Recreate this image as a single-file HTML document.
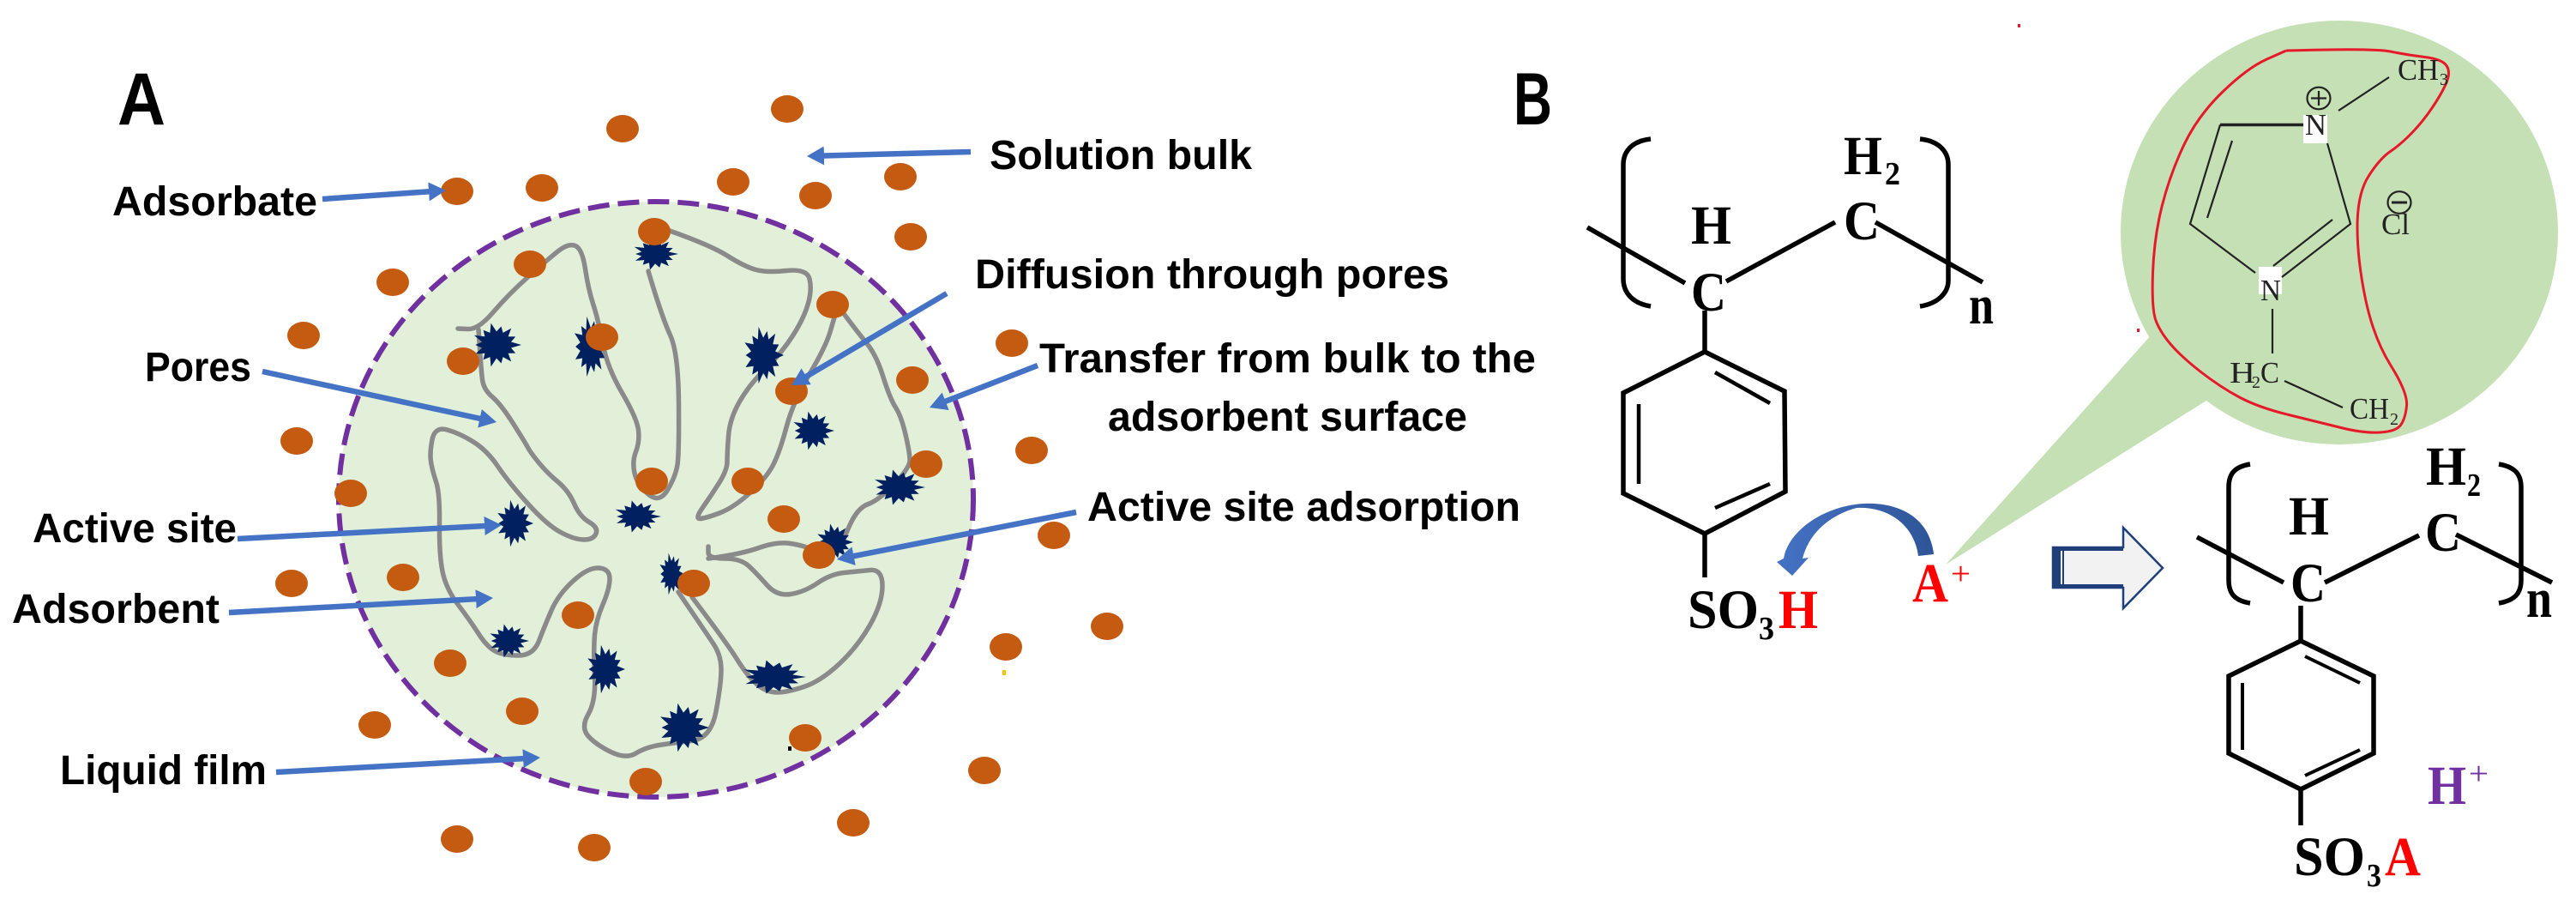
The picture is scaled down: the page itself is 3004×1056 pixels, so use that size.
<!DOCTYPE html>
<html><head><meta charset="utf-8"><title>Adsorption diagram</title>
<style>
html,body{margin:0;padding:0;background:#fff}
svg{display:block}
.l{font-family:"Liberation Sans",sans-serif;font-weight:700;font-size:48px;fill:#000}
.b{font-family:"Liberation Sans",sans-serif;font-weight:700;font-size:86px;fill:#000}
.s{font-family:"Liberation Serif",serif;font-weight:700;font-size:65px;fill:#000}
.ss{font-family:"Liberation Serif",serif;font-weight:700;font-size:38px;fill:#000}
.m{font-family:"Liberation Serif",serif;font-size:35px;fill:#222}
.ms{font-family:"Liberation Serif",serif;font-size:20px;fill:#222}
.arr line{stroke:#4472C4;stroke-width:6.5;marker-end:url(#ah)}
.bond{stroke:#000;stroke-width:5.5;fill:none;stroke-linejoin:miter}
.thin{stroke:#222;stroke-width:2.2;fill:none}
</style></head>
<body>
<svg xmlns="http://www.w3.org/2000/svg" width="3004" height="1056" viewBox="0 0 3004 1056">
<defs>
<marker id="ah" markerUnits="userSpaceOnUse" markerWidth="22" markerHeight="24" refX="8" refY="12" orient="auto"><path d="M0,1 L20,12 L0,23 Z" fill="#4472C4"/></marker>
<polygon id="st" fill="#002060" points="1,0 .585,.134 .766,.369 .469,.374 .592,.743 .26,.541 .19,.829 0,.6 -.223,.975 -.26,.541 -.53,.665 -.469,.374 -.856,.412 -.585,.134 -.85,0 -.585,-.134 -.901,-.434 -.469,-.374 -.53,-.665 -.26,-.541 -.223,-.975 0,-.6 .19,-.829 .26,-.541 .592,-.743 .469,-.374 .766,-.369 .585,-.134"/>
<linearGradient id="cg" x1="0" x2="1" y1="0" y2="0"><stop offset="0" stop-color="#4472C4"/><stop offset="1" stop-color="#2F5597"/></linearGradient>
</defs>

<!-- Adsorbent -->
<ellipse cx="765" cy="582" rx="370" ry="347" fill="#E2F0D9" stroke="#7030A0" stroke-width="6" stroke-dasharray="25 10"/>

<!-- Pores -->
<g fill="none" stroke="#8A8A8A" stroke-width="5.5" stroke-linejoin="round" stroke-linecap="round">
<path class="sm" d="M756,316 L772,370 L791,411 L792,528 L788,555 L769,587 L743,565 L737,538 L746,515 L743,488 L708,428 L698,374 L686,337 L679,290 L663,283 L638,303 L593,343 L558,384 L534,383"/>
<path class="sm" d="M558,384 L561,431 L564,454 L584,471 L612,515 L619,528 L638,551 L663,572 L676,602 L698,615 L692,629 L670,629 L638,612 L593,562 L568,525 L536,505 L507,497 L501,528 L504,548 L513,575 L512,646 L520,686 L548,723 L568,754 L587,764 L622,764 L635,730 L651,693 L686,661 L711,663 L711,686 L695,723 L692,757 L695,817 L677,848 L695,868 L730,885 L753,871 L784,866 L829,861 L841,797 L841,764 L823,737 L791,690"/>
<path class="sm" d="M807,696 L848,750 L871,787 L893,807 L918,807 L957,794 L1000,754 L1029,703 L1029,663 L1000,666 L969,669 L938,690 L906,695 L883,669 L864,651 L826,651 L826,637"/>
<path class="sm" d="M826,651 L864,646 L906,631 L938,636 L955,645"/>
<path class="sm" d="M781,269 L829,286 L867,310 L893,318 L941,313 L947,337 L938,370 L912,411 L874,448 L851,488 L848,528 L848,548 L829,578 L810,605 L823,604 L855,592 L893,558 L909,528 L925,468 L963,404 L973,370"/>
<path class="sm" d="M985,367 L1000,387 L1022,414 L1038,465 L1051,485 L1061,528 L1061,545 L1025,583 L1000,592 L982,632"/>
</g>

<!-- Active sites -->
<use href="#st" transform="translate(579,402) scale(29,26)"/>
<use href="#st" transform="translate(689,404) scale(21,36)"/>
<use href="#st" transform="translate(764,296) scale(27,19)"/>
<use href="#st" transform="translate(890,414) scale(24,34)"/>
<use href="#st" transform="translate(948,502) scale(25,23)"/>
<use href="#st" transform="translate(600,610) scale(22,28)"/>
<use href="#st" transform="translate(743,602) scale(28,19)"/>
<use href="#st" transform="translate(783,669) scale(15,25)"/>
<use href="#st" transform="translate(973,632) scale(22,22)"/>
<use href="#st" transform="translate(593,747) scale(24,20)"/>
<use href="#st" transform="translate(706,780) scale(23,29)"/>
<use href="#st" transform="translate(902,789) scale(38,20)"/>
<use href="#st" transform="translate(797,848) scale(30,29)"/>
<use href="#st" transform="translate(1048,568) scale(31,21)"/>

<!-- Adsorbate dots -->
<g fill="#C55A11">
<ellipse cx="726" cy="150" rx="19" ry="16"/><ellipse cx="918" cy="127" rx="19" ry="16"/><ellipse cx="533" cy="223" rx="19" ry="16"/><ellipse cx="632" cy="219" rx="19" ry="16"/><ellipse cx="855" cy="212" rx="19" ry="16"/><ellipse cx="951" cy="228" rx="19" ry="16"/><ellipse cx="763" cy="270" rx="19" ry="16"/><ellipse cx="618" cy="308" rx="19" ry="16"/><ellipse cx="458" cy="329" rx="19" ry="16"/><ellipse cx="971" cy="355" rx="19" ry="16"/><ellipse cx="354" cy="391" rx="19" ry="16"/><ellipse cx="702" cy="393" rx="19" ry="16"/><ellipse cx="540" cy="421" rx="19" ry="16"/><ellipse cx="923" cy="456" rx="19" ry="16"/><ellipse cx="346" cy="514" rx="19" ry="16"/>
<ellipse cx="409" cy="575" rx="19" ry="16"/><ellipse cx="760" cy="561" rx="19" ry="16"/><ellipse cx="872" cy="561" rx="19" ry="16"/><ellipse cx="914" cy="605" rx="19" ry="16"/><ellipse cx="955" cy="647" rx="19" ry="16"/><ellipse cx="340" cy="680" rx="19" ry="16"/><ellipse cx="470" cy="673" rx="19" ry="16"/><ellipse cx="809" cy="680" rx="19" ry="16"/><ellipse cx="674" cy="717" rx="19" ry="16"/><ellipse cx="525" cy="773" rx="19" ry="16"/><ellipse cx="609" cy="829" rx="19" ry="16"/><ellipse cx="437" cy="845" rx="19" ry="16"/><ellipse cx="939" cy="860" rx="19" ry="16"/><ellipse cx="753" cy="911" rx="19" ry="16"/><ellipse cx="533" cy="978" rx="19" ry="16"/><ellipse cx="693" cy="988" rx="19" ry="16"/><ellipse cx="995" cy="959" rx="19" ry="16"/>
<ellipse cx="1050" cy="206" rx="19" ry="16"/><ellipse cx="1062" cy="276" rx="19" ry="16"/><ellipse cx="1180" cy="400" rx="19" ry="16"/><ellipse cx="1064" cy="443" rx="19" ry="16"/><ellipse cx="1203" cy="525" rx="19" ry="16"/><ellipse cx="1080" cy="541" rx="19" ry="16"/><ellipse cx="1229" cy="624" rx="19" ry="16"/><ellipse cx="1291" cy="730" rx="19" ry="16"/><ellipse cx="1173" cy="754" rx="19" ry="16"/><ellipse cx="1148" cy="898" rx="19" ry="16"/>
</g>
<rect x="1169" y="781" width="4" height="6" fill="#FFC000"/>
<rect x="919" y="870" width="4" height="5" fill="#000"/>
<rect x="2353" y="28" width="3" height="4" fill="#E6192B"/>
<rect x="2492" y="383" width="3" height="4" fill="#E6192B"/>

<!-- Callout arrows -->
<g class="arr">
<line x1="376" y1="232" x2="508" y2="222.8"/>
<line x1="1132" y1="177" x2="953" y2="181.7"/>
<line x1="306" y1="433" x2="567.3" y2="489.5"/>
<line x1="1104" y1="342" x2="933.3" y2="442.9"/>
<line x1="1210" y1="426" x2="1095.2" y2="470.7"/>
<line x1="1255" y1="597" x2="987.8" y2="649.7"/>
<line x1="277" y1="628" x2="573" y2="612.6"/>
<line x1="267" y1="714" x2="563" y2="697.7"/>
<line x1="322" y1="900" x2="618" y2="883.7"/>
</g>

<!-- Panel A labels -->
<text class="b" x="137" y="145" textLength="56" lengthAdjust="spacingAndGlyphs">A</text>
<text class="l" x="131" y="251" textLength="239" lengthAdjust="spacingAndGlyphs">Adsorbate</text>
<text class="l" x="169" y="444" textLength="124" lengthAdjust="spacingAndGlyphs">Pores</text>
<text class="l" x="38" y="632" textLength="238" lengthAdjust="spacingAndGlyphs">Active site</text>
<text class="l" x="14" y="726" textLength="242" lengthAdjust="spacingAndGlyphs">Adsorbent</text>
<text class="l" x="70" y="914" textLength="241" lengthAdjust="spacingAndGlyphs">Liquid film</text>
<text class="l" x="1154" y="197" textLength="306" lengthAdjust="spacingAndGlyphs">Solution bulk</text>
<text class="l" x="1137" y="336" textLength="553" lengthAdjust="spacingAndGlyphs">Diffusion through pores</text>
<text class="l" x="1212" y="434" textLength="579" lengthAdjust="spacingAndGlyphs">Transfer from bulk to the</text>
<text class="l" x="1292" y="502" textLength="419" lengthAdjust="spacingAndGlyphs">adsorbent surface</text>
<text class="l" x="1268" y="607" textLength="505" lengthAdjust="spacingAndGlyphs">Active site adsorption</text>

<text class="b" x="1765" y="145" textLength="45" lengthAdjust="spacingAndGlyphs">B</text>

<!-- Left polymer -->
<g class="bond">
<path d="M1925,162 C1905,164 1893,175 1893,192 L1893,325 C1893,342 1905,354 1925,357"/>
<path d="M2239,162 C2259,164 2272,175 2272,192 L2272,327 C2272,342 2259,354 2239,357"/>
<path d="M1851,265 L1965,330"/>
<path d="M2013,328 L2140,259"/>
<path d="M2187,259 L2312,329"/>
<path d="M1988,362 L1988,410"/>
<path d="M1988,410 L2081,456 L2082,573 L1988,622 L1893,575 L1893,458 Z"/>
<path d="M1988,622 L1988,673"/>
<path d="M1911,471 L1911,564" stroke-width="4.5"/>
<path d="M2000,434 L2064,470" stroke-width="4.5"/>
<path d="M2000,592 L2064,564" stroke-width="4.5"/>
</g>
<text class="s" x="1972" y="284" textLength="47" lengthAdjust="spacingAndGlyphs">H</text>
<text class="s" x="1972" y="362" textLength="41" lengthAdjust="spacingAndGlyphs">C</text>
<text class="s" x="2150" y="203" textLength="45" lengthAdjust="spacingAndGlyphs">H</text>
<text class="ss" x="2198" y="215" textLength="18" lengthAdjust="spacingAndGlyphs">2</text>
<text class="s" x="2150" y="279" textLength="42" lengthAdjust="spacingAndGlyphs">C</text>
<text class="s" x="2296" y="377" textLength="29" lengthAdjust="spacingAndGlyphs">n</text>
<text class="s" x="1968" y="732" textLength="83" lengthAdjust="spacingAndGlyphs">SO</text>
<text class="ss" x="2051" y="745" textLength="18" lengthAdjust="spacingAndGlyphs">3</text>
<text class="s" x="2074" y="732" textLength="46" lengthAdjust="spacingAndGlyphs" style="fill:#FF0000">H</text>

<!-- Curved arrow -->
<path d="M2255,646 C2250,600 2210,585 2173,587 C2125,590 2085,620 2080,651 L2072,655 L2090,671 L2109,650 L2102,651 C2110,620 2135,600 2165,592 C2200,590 2232,610 2237,648 Z" fill="url(#cg)"/>
<text class="s" x="2230" y="701" textLength="42" lengthAdjust="spacingAndGlyphs" style="fill:#FF0000">A</text>
<text class="ss" x="2275" y="681" textLength="23" lengthAdjust="spacingAndGlyphs" style="fill:#FF0000;font-weight:400">+</text>

<!-- Callout bubble -->
<path d="M2509,390 L2269,658 L2576,465 Z" fill="#C5E0B4"/>
<ellipse cx="2728" cy="271" rx="255" ry="247" fill="#C5E0B4"/>
<path class="sm" d="M2666,59 L2768,56 L2807,64 L2848,69 L2858,84 L2848,108 L2826,141 L2800,168 L2775,185 L2749,226 L2749,303 L2768,394 L2808,458 L2805,488 L2794,503 L2756,505 L2704,492 L2634,475 L2589,451 L2544,416 L2519,387 L2509,360 L2512,276 L2531,202 L2563,135 L2621,79 L2666,59" fill="none" stroke="#E6192B" stroke-width="3" stroke-linejoin="round"/>
<rect x="2686" y="134" width="28" height="33" fill="#fff"/>
<rect x="2634" y="311" width="27" height="32" fill="#fff"/>
<g class="thin">
<path d="M2589,145.5 L2686,145.5" stroke-width="3.5"/>
<path d="M2589,145.5 L2554,261 L2630,318"/>
<path d="M2603,164 L2574,254"/>
<path d="M2714,167 L2741,261 L2661,323"/>
<path d="M2720,256 L2651,310"/>
<path d="M2650,360 L2650,412"/>
<path d="M2664,444 L2732,475"/>
<path d="M2786,90 L2727,129"/>
<ellipse cx="2704" cy="114.5" rx="13.5" ry="12.8"/>
<path d="M2695,114.5 H2713 M2704,106 V123"/>
<ellipse cx="2798" cy="236" rx="13.5" ry="12.8"/>
<path d="M2789,236 H2807" stroke-width="3"/>
</g>
<text class="m" x="2688" y="157" textLength="25" lengthAdjust="spacingAndGlyphs">N</text>
<text class="m" x="2636" y="350" textLength="24" lengthAdjust="spacingAndGlyphs">N</text>
<text class="m" x="2600" y="446" textLength="30" lengthAdjust="spacingAndGlyphs">H</text>
<text class="ms" x="2626" y="452">2</text>
<text class="m" x="2636" y="446" textLength="22" lengthAdjust="spacingAndGlyphs">C</text>
<text class="m" x="2740" y="488" textLength="46" lengthAdjust="spacingAndGlyphs">CH</text>
<text class="ms" x="2787" y="495">2</text>
<text class="m" x="2796" y="93" textLength="48" lengthAdjust="spacingAndGlyphs">CH</text>
<text class="ms" x="2845" y="99">3</text>
<text class="m" x="2777" y="273" textLength="33" lengthAdjust="spacingAndGlyphs">Cl</text>

<!-- Block arrow -->
<path d="M2394,638 L2476,638 L2476,615 L2522,662 L2476,709 L2476,685 L2394,685 Z" fill="#F2F2F2" stroke="#1F3F7A" stroke-width="2.5"/>
<rect x="2394" y="638" width="9" height="47" fill="#1F3F7A"/>
<path d="M2403,640 H2476 M2403,683 H2476" stroke="#1F3F7A" stroke-width="4"/>
<path d="M2406,638 V685" stroke="#1F3F7A" stroke-width="2"/>

<!-- Right polymer -->
<g class="bond">
<path d="M2624,541 C2606,544 2599,552 2599,568 L2599,676 C2599,692 2606,700 2624,703"/>
<path d="M2914,541 C2932,544 2940,552 2940,568 L2940,676 C2940,692 2932,700 2914,703"/>
<path d="M2562,626 L2663,679"/>
<path d="M2711,679 L2821,624"/>
<path d="M2864,623 L2976,679"/>
<path d="M2683,706 L2683,747"/>
<path d="M2683,747 L2768,788 L2768,878 L2683,920 L2599,878 L2599,788 Z"/>
<path d="M2683,920 L2683,962"/>
<path d="M2615,796 L2615,874" stroke-width="4"/>
<path d="M2688,765 L2752,796" stroke-width="4"/>
<path d="M2688,904 L2752,874" stroke-width="4"/>
</g>
<text class="s" x="2669" y="623" textLength="47" lengthAdjust="spacingAndGlyphs">H</text>
<text class="s" x="2671" y="701" textLength="41" lengthAdjust="spacingAndGlyphs">C</text>
<text class="s" x="2828" y="642" textLength="42" lengthAdjust="spacingAndGlyphs">C</text>
<text class="s" x="2829" y="565" textLength="47" lengthAdjust="spacingAndGlyphs">H</text>
<text class="ss" x="2877" y="578" textLength="16" lengthAdjust="spacingAndGlyphs">2</text>
<text class="s" x="2946" y="719" textLength="30" lengthAdjust="spacingAndGlyphs">n</text>
<text class="s" x="2675" y="1020" textLength="83" lengthAdjust="spacingAndGlyphs">SO</text>
<text class="ss" x="2760" y="1033" textLength="17" lengthAdjust="spacingAndGlyphs">3</text>
<text class="s" x="2781" y="1020" textLength="42" lengthAdjust="spacingAndGlyphs" style="fill:#FF0000">A</text>
<text class="s" x="2831" y="937" textLength="45" lengthAdjust="spacingAndGlyphs" style="fill:#7030A0">H</text>
<text class="ss" x="2879" y="914" textLength="23" lengthAdjust="spacingAndGlyphs" style="fill:#7030A0;font-weight:400">+</text>
</svg>
<script>
document.querySelectorAll('path.sm').forEach(function(p){
  var n=p.getAttribute('d').match(/[\d.]+/g).map(Number),d='M'+n[0]+','+n[1];
  for(var i=2;i<n.length-2;i+=2){
    d+=' Q'+n[i]+','+n[i+1]+' '+((n[i]+n[i+2])/2)+','+((n[i+1]+n[i+3])/2);
  }
  d+=' L'+n[n.length-2]+','+n[n.length-1];
  p.setAttribute('d',d);
});
</script>
</body></html>
